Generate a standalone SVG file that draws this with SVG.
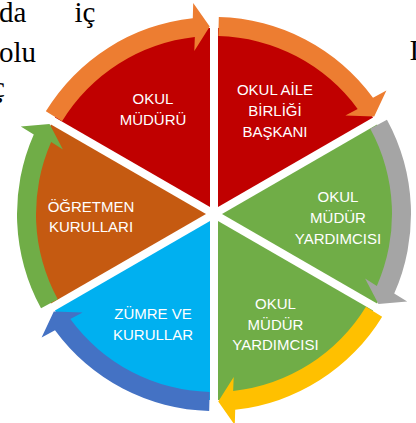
<svg xmlns="http://www.w3.org/2000/svg" width="416" height="423" viewBox="0 0 416 423">
<style>
.doc{font-family:"Liberation Serif","Times New Roman",serif;font-size:29px;fill:#000}
.lbl{font-family:"Liberation Sans",Arial,sans-serif;font-size:15px;fill:#fff;text-anchor:middle}
.red{fill:#C00000}.grn{fill:#70AD47}.blu{fill:#00B0F0}.brn{fill:#C55A11}
.a-or{fill:#ED7D31}.a-gy{fill:#A5A5A5}.a-ye{fill:#FFC000}.a-bl{fill:#4472C4}.a-gn{fill:#70AD47}
</style>
<rect width="416" height="423" fill="#fff"/>
<g id="page-text">
<text class="doc" x="-1" y="22">da</text>
<text class="doc" x="74.5" y="22">iç</text>
<text class="doc" x="-1" y="62">olu</text>
<text class="doc" x="-8" y="97">ç</text>
<text class="doc" x="409.5" y="60">I</text>
</g>
<g id="okul-muduru">
<path class="red" d="M210,207.07 L54.95,117.55 A186,186 0 0 1 210,28.04 Z"/>
<text class="lbl" x="153" y="104">OKUL</text>
<text class="lbl" x="153" y="125">MÜDÜRÜ</text>
</g>
<g id="okul-aile-birligi-baskani">
<path class="red" d="M218,207.07 L218,28.04 A186,186 0 0 1 373.05,117.55 Z"/>
<text class="lbl" x="275" y="95">OKUL AİLE</text>
<text class="lbl" x="275" y="116">BİRLİĞİ</text>
<text class="lbl" x="275" y="137">BAŞKANI</text>
</g>
<g id="okul-mudur-yardimcisi-1">
<path class="grn" d="M222,214 L377.05,124.49 A186,186 0 0 1 377.05,303.51 Z"/>
<text class="lbl" x="338" y="202">OKUL</text>
<text class="lbl" x="338" y="223">MÜDÜR</text>
<text class="lbl" x="338" y="244">YARDIMCISI</text>
</g>
<g id="okul-mudur-yardimcisi-2">
<path class="grn" d="M218,220.93 L373.05,310.45 A186,186 0 0 1 218,399.96 Z"/>
<text class="lbl" x="275.5" y="309">OKUL</text>
<text class="lbl" x="275.5" y="330">MÜDÜR</text>
<text class="lbl" x="275.5" y="350">YARDIMCISI</text>
</g>
<g id="zumre-ve-kurullar">
<path class="blu" d="M210,220.93 L210,399.96 A186,186 0 0 1 54.95,310.45 Z"/>
<text class="lbl" x="153" y="319">ZÜMRE VE</text>
<text class="lbl" x="153" y="340">KURULLAR</text>
</g>
<g id="ogretmen-kurullari">
<path class="brn" d="M206,214 L50.95,303.51 A186,186 0 0 1 50.95,124.49 Z"/>
<text class="lbl" x="91" y="212">ÖĞRETMEN</text>
<text class="lbl" x="91" y="232">KURULLARI</text>
</g>
<g id="connectors">
<path class="a-or" d="M45.83,111.36 A197,197 0 0 1 192.79,18.14 L193.21,2.92 L209.75,26.55 L194.30,50.90 L194.84,37.03 A178,178 0 0 0 62.05,121.26 Z"/>
<path class="a-or" d="M218.81,17.06 A197,197 0 0 1 373.00,97.70 L386.40,90.45 L374.20,116.59 L345.38,115.39 L357.67,108.91 A178,178 0 0 0 218.35,36.05 Z"/>
<path class="a-gy" d="M386.96,119.70 A197,197 0 0 1 394.22,293.57 L407.20,301.54 L378.47,304.04 L365.10,278.48 L376.84,285.89 A178,178 0 0 0 370.28,128.79 Z"/>
<path class="a-ye" d="M382.15,316.64 A197,197 0 0 1 235.21,409.86 L234.79,425.08 L218.25,401.45 L233.71,377.10 L233.16,390.97 A178,178 0 0 0 365.93,306.74 Z"/>
<path class="a-bl" d="M209.19,410.94 A197,197 0 0 1 55.00,330.30 L41.60,337.55 L53.80,311.41 L82.62,312.61 L70.33,319.09 A178,178 0 0 0 209.65,391.95 Z"/>
<path class="a-gn" d="M41.04,308.30 A197,197 0 0 1 33.78,134.43 L20.80,126.46 L49.53,123.96 L62.90,149.52 L51.16,142.11 A178,178 0 0 0 57.72,299.21 Z"/>
</g>
</svg>
